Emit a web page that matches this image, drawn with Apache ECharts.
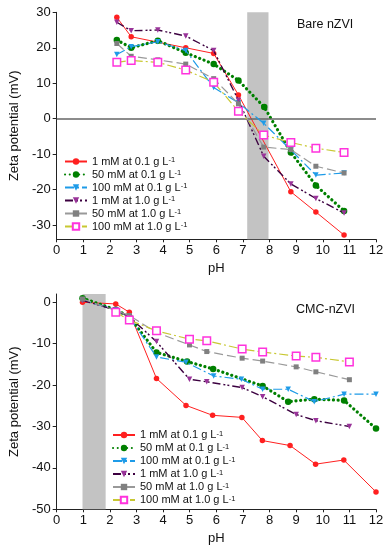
<!DOCTYPE html>
<html><head><meta charset="utf-8">
<script src="https://cdn.jsdelivr.net/npm/echarts@6/dist/echarts.min.js"></script>
<style>html,body{margin:0;padding:0;background:#fff}#c{width:388px;height:550px}</style>
</head><body><div id="c"></div>
<script>
// ---- Series names ----
const names = ['1 mM at 0.1 g L-1','50 mM at 0.1 g L-1','100 mM at 0.1 g L-1','1 mM at 1.0 g L-1','50 mM at 1.0 g L-1','100 mM at 1.0 g L-1'];

// ---- Top chart: Bare nZVI ----
const bareRedX = [2.26, 2.80, 4.85, 5.90, 6.83, 8.80, 9.74, 10.80];
const bareRedY = [28.6, 23.1, 20.0, 18.4, 6.7, -20.6, -26.3, -32.8];
const bareGreenX = [2.26, 2.80, 3.80, 4.85, 5.90, 6.83, 7.80, 8.80, 9.74, 10.80];
const bareGreenY = [22.2, 20.0, 22.0, 18.6, 15.4, 10.8, 3.3, -9.5, -18.8, -26.0];
const bareBlueX = [2.26, 2.80, 3.80, 4.85, 5.90, 6.83, 7.78, 8.80, 9.74, 10.80];
const bareBlueY = [18.1, 20.3, 21.7, 19.2, 8.8, 4.5, -1.3, -8.8, -15.9, -15.3];
const barePurpleX = [2.26, 2.80, 3.80, 4.85, 5.90, 6.83, 7.78, 8.80, 9.74, 10.80];
const barePurpleY = [27.2, 24.8, 25.0, 23.3, 19.2, 5.2, -10.6, -18.4, -22.5, -26.6];
const bareGrayX = [2.26, 2.80, 3.80, 4.85, 5.90, 6.83, 7.78, 8.80, 9.74, 10.80];
const bareGrayY = [21.2, 17.6, 16.6, 15.4, 11.3, 4.2, -8.0, -8.7, -13.4, -15.3];
const bareMagX = [2.26, 2.80, 3.80, 4.85, 5.90, 6.83, 7.78, 8.80, 9.74, 10.80];
const bareMagY = [15.9, 16.4, 15.9, 13.7, 10.3, 2.1, -4.6, -6.7, -8.3, -9.5];
const bareBand = [7.16, 7.96];

// ---- Bottom chart: CMC-nZVI ----
const cmcRedX = [0.97, 2.22, 2.73, 3.75, 4.86, 5.86, 6.96, 7.73, 8.77, 9.73, 10.79, 12.0];
const cmcRedY = [0.0, -0.4, -2.4, -18.4, -24.9, -27.3, -27.8, -33.4, -34.6, -39.1, -38.1, -45.8];
const cmcGreenX = [0.97, 2.22, 2.73, 3.75, 4.90, 5.88, 7.74, 8.70, 9.68, 10.80, 12.0];
const cmcGreenY = [1.0, -1.8, -3.5, -12.1, -14.3, -16.1, -20.2, -24.0, -23.4, -23.7, -30.5];
const cmcBlueX = [0.97, 2.22, 2.73, 3.75, 4.86, 5.90, 6.94, 7.74, 8.70, 9.68, 10.80, 12.0];
const cmcBlueY = [0.5, -1.8, -3.6, -13.2, -14.5, -17.8, -18.6, -21.0, -21.0, -24.0, -22.2, -22.2];
const cmcPurpleX = [0.97, 2.22, 2.73, 3.75, 4.99, 5.64, 6.97, 7.74, 9.00, 9.74, 11.0];
const cmcPurpleY = [0.5, -1.9, -3.5, -9.5, -18.6, -19.2, -20.6, -22.8, -27.1, -28.6, -30.0];
const cmcGrayX = [0.97, 2.22, 2.73, 3.75, 4.99, 5.64, 6.97, 7.74, 9.00, 9.74, 11.0];
const cmcGrayY = [0.8, -2.0, -3.2, -7.3, -10.3, -11.9, -13.5, -14.2, -15.6, -16.8, -18.7];
const cmcMagX = [2.22, 2.73, 3.75, 4.99, 5.64, 6.97, 7.74, 9.00, 9.74, 11.0];
const cmcMagY = [-2.4, -4.3, -6.9, -8.9, -9.3, -11.3, -12.0, -13.0, -13.3, -14.4];
const cmcBand = [0.97, 1.84];

// ---- Tick labels ----
const xTicks = [0,1,2,3,4,5,6,7,8,9,10,11,12];
const topYTicks = [-30,-20,-10,0,10,20,30];
const botYTicks = [-50,-40,-30,-20,-10,0];

const FONT = 'Liberation Sans, Arial, sans-serif';
const zip = (xs, ys) => xs.map((x, i) => [x, ys[i]]);

const styles = [
  {line:{color:'#ff2020', width:1, type:'solid'}, item:{color:'#ff2020'}, symbol:'circle', size:5.5, rot:0},
  {line:{color:'#008000', width:3.2, type:[0.1,4.6], cap:'round'}, item:{color:'#008000'}, symbol:'circle', size:6.5, rot:0},
  {line:{color:'#1e9be8', width:1.2, type:[9,3,2,3]}, item:{color:'#1e9be8'}, symbol:'triangle', size:5.5, rot:180},
  {line:{color:'#3c0040', width:1.4, type:[8,3,2,2,2,3]}, item:{color:'#993399'}, symbol:'triangle', size:5.5, rot:180},
  {line:{color:'#999999', width:1.2, type:[9,4]}, item:{color:'#808080'}, symbol:'rect', size:5, rot:0},
  {line:{color:'#c8c832', width:1.2, type:[9,3,2,3]}, item:{color:'#ffffff', borderColor:'#ff33dd', borderWidth:1.5}, symbol:'rect', size:7.5, rot:0}
];

function mk(idx, gi, data) {
  const s = styles[idx];
  return {
    name: names[idx], type:'line', xAxisIndex:gi, yAxisIndex:gi, data:data,
    symbol:s.symbol, symbolSize:s.size, symbolRotate:s.rot, showSymbol:true,
    lineStyle:s.line, itemStyle:s.item, animation:false, z:3 + idx, emphasis:{disabled:true}
  };
}

const topData = [zip(bareRedX,bareRedY), zip(bareGreenX,bareGreenY), zip(bareBlueX,bareBlueY), zip(barePurpleX,barePurpleY), zip(bareGrayX,bareGrayY), zip(bareMagX,bareMagY)];
const botData = [zip(cmcRedX,cmcRedY), zip(cmcGreenX,cmcGreenY), zip(cmcBlueX,cmcBlueY), zip(cmcPurpleX,cmcPurpleY), zip(cmcGrayX,cmcGrayY), zip(cmcMagX,cmcMagY)];

const series = [];
series.push({type:'line', xAxisIndex:0, yAxisIndex:0, data:[], silent:true, z:1,
  markArea:{silent:true, itemStyle:{color:'#c3c3c3'}, data:[[{xAxis:bareBand[0], yAxis:-34},{xAxis:bareBand[1], yAxis:30}]]},
  markLine:{silent:true, symbol:'none', label:{show:false}, lineStyle:{color:'#666', width:1.6, type:'solid'}, data:[{yAxis:0}]}
});
series.push({type:'line', xAxisIndex:1, yAxisIndex:1, data:[], silent:true, z:1,
  markArea:{silent:true, itemStyle:{color:'#c3c3c3'}, data:[[{xAxis:cmcBand[0], yAxis:-50},{xAxis:cmcBand[1], yAxis:2}]]}
});
topData.forEach((d,i)=>series.push(mk(i,0,d)));
botData.forEach((d,i)=>series.push(mk(i,1,d)));

function xAxis(gi) {
  return {type:'value', gridIndex:gi, min:0, max:12, interval:1, name:'pH', nameLocation:'middle', nameGap:23,
    nameTextStyle:{fontFamily:FONT, fontSize:13, color:'#111'},
    axisLine:{onZero:false, lineStyle:{color:'#222', width:1}},
    axisTick:{show:true, inside:false, length:3, lineStyle:{color:'#222'}},
    axisLabel:{fontFamily:FONT, fontSize:13, color:'#111', margin:5, customValues:xTicks},
    splitLine:{show:false}};
}
function yAxis(gi, min, max, ticks) {
  return {type:'value', gridIndex:gi, min:min, max:max, name:'Zeta potential (mV)', nameLocation:'middle', nameGap:31,
    nameTextStyle:{fontFamily:FONT, fontSize:13, color:'#111'},
    axisLine:{show:true, onZero:false, lineStyle:{color:'#222', width:1}},
    axisTick:{show:true, length:4, customValues:ticks, lineStyle:{color:'#222'}},
    axisLabel:{fontFamily:FONT, fontSize:13, color:'#111', margin:6, customValues:ticks},
    splitLine:{show:false}};
}

function legend(left, top) {
  return {data:names, orient:'vertical', left:left, top:top, itemWidth:22, itemHeight:8, itemGap:0,
    selectedMode:false, padding:0,
    textStyle:{fontFamily:FONT, fontSize:11, color:'#111', lineHeight:11,
      rich:{a:{fontFamily:FONT, fontSize:11, color:'#111', lineHeight:11}, s:{fontFamily:FONT, fontSize:7.5, color:'#111', lineHeight:11, verticalAlign:'top', padding:[0,0,5,0]}}},
    formatter: n => '{a|' + n.slice(0,-2) + '}{s|-1}'};
}

const option = {
  animation:false,
  backgroundColor:'#fff',
  grid:[{left:51, right:12, top:12.3, height:227},{left:51, right:12, top:294, height:215.3}],
  xAxis:[xAxis(0), xAxis(1)],
  yAxis:[yAxis(0,-34,30,topYTicks), yAxis(1,-50,2,botYTicks)],
  legend:[legend(64,156), legend(112,429.5)],
  graphic:[
    {type:'text', left:297, top:18, style:{text:'Bare nZVI', font:'12.5px '+FONT, fill:'#111'}},
    {type:'text', left:296, top:303, style:{text:'CMC-nZVI', font:'12.5px '+FONT, fill:'#111'}}
  ],
  series:series
};
const chart = echarts.init(document.getElementById('c'), null, {renderer:'canvas'});
chart.setOption(option);
</script></body></html>
